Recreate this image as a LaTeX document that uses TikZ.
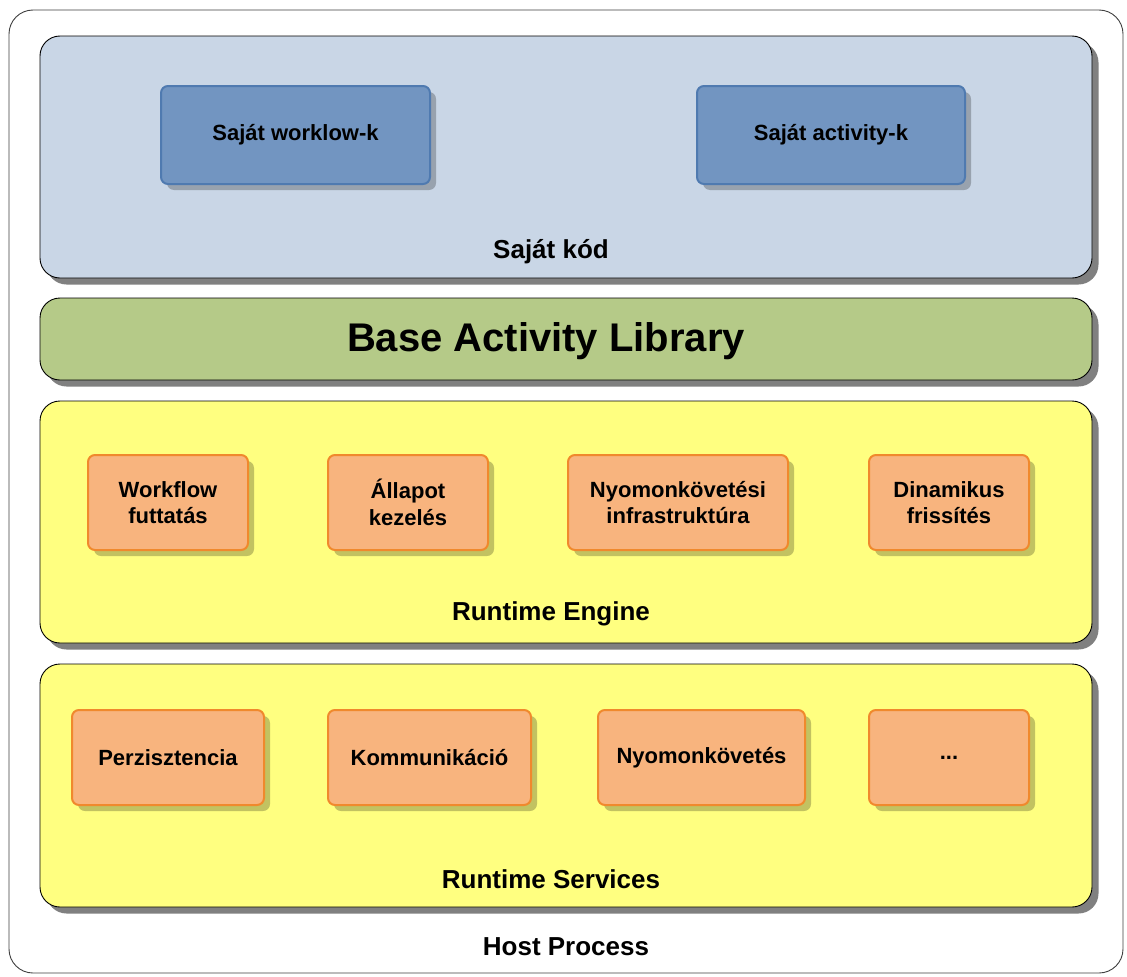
\documentclass[tikz,border=0pt]{standalone}
\usepackage{fontspec}
\setmainfont{Liberation Sans}
\usetikzlibrary{shadows}
\definecolor{ownfill}{HTML}{C9D6E6}
\definecolor{bluebox}{HTML}{7295C1}
\definecolor{blueline}{HTML}{4F7AB0}
\definecolor{libfill}{HTML}{B5CA88}
\definecolor{enginefill}{HTML}{FFFF80}
\definecolor{orangebox}{HTML}{F8B47E}
\definecolor{orangeline}{HTML}{F0892D}
\definecolor{layershadow}{HTML}{808080}
\tikzset{
  layer/.style={draw=black, line width=0.9pt, rounded corners=20pt,
    drop shadow={shadow xshift=6.5pt, shadow yshift=-6.5pt, fill=layershadow, opacity=1}},
  item/.style={rounded corners=7pt, line width=2pt, align=center,
    font=\fontsize{22}{26.5}\selectfont\bfseries,
    drop shadow={shadow xshift=6pt, shadow yshift=-6pt, fill=black, opacity=0.24}},
  blueitem/.style={item, draw=blueline, fill=bluebox},
  orangeitem/.style={item, draw=orangeline, fill=orangebox},
  caption/.style={font=\fontsize{26}{30}\selectfont\bfseries},
}
\begin{document}
\begin{tikzpicture}[x=1pt, y=-1pt]
  \useasboundingbox (0,0) rectangle (1127,977);
  \fill[white] (0,0) rectangle (1127,977);

  % host process frame
  \node[draw=black!75, line width=0.9pt, rounded corners=24pt, fill=white,
        minimum width=1114pt, minimum height=963pt] (host) at (566,491.5) {};
  \node[caption] (hostlbl) at (566,947) {Host Process};

  % own code layer
  \node[layer, fill=ownfill, minimum width=1052pt, minimum height=242pt] (own) at (566,157) {};
  \node[blueitem, minimum width=269pt, minimum height=98pt] (wf) at (295.5,135) {Saját worklow-k};
  \node[blueitem, minimum width=268pt, minimum height=98pt] (act) at (831,135) {Saját activity-k};
  \node[caption] (ownlbl) at (551,252) {Saját kód};

  % base activity library
  \node[layer, fill=libfill, minimum width=1052pt, minimum height=82pt] (lib) at (566,339) {};
  \node[font=\fontsize{40}{46}\selectfont\bfseries] (liblbl) at (546,341) {Base Activity Library};

  % runtime engine
  \node[layer, fill=enginefill, minimum width=1052pt, minimum height=242pt] (engine) at (566,522) {};
  \node[orangeitem, minimum width=160pt, minimum height=95pt] (e1) at (168,502.5) {Workflow\\futtatás};
  \node[orangeitem, minimum width=160pt, minimum height=95pt] (e2) at (408,502.5) {Állapot\\kezelés};
  \node[orangeitem, minimum width=220pt, minimum height=95pt] (e3) at (678,502.5) {Nyomonkövetési\\infrastruktúra};
  \node[orangeitem, minimum width=160pt, minimum height=95pt] (e4) at (949,502.5) {Dinamikus\\frissítés};
  \node[caption] (enginelbl) at (551,614) {Runtime Engine};

  % runtime services
  \node[layer, fill=enginefill, minimum width=1052pt, minimum height=243pt] (services) at (566,785.5) {};
  \node[orangeitem, minimum width=192pt, minimum height=95pt] (s1) at (168,757.5) {Perzisztencia};
  \node[orangeitem, minimum width=203pt, minimum height=95pt] (s2) at (429.5,757.5) {Kommunikáció};
  \node[orangeitem, minimum width=207pt, minimum height=95pt] (s3) at (701.5,757.5) {Nyomonkövetés};
  \node[orangeitem, minimum width=160pt, minimum height=95pt] (s4) at (949,757.5) {...};
  \node[caption] (serviceslbl) at (551,879) {Runtime Services};
\end{tikzpicture}
\end{document}
